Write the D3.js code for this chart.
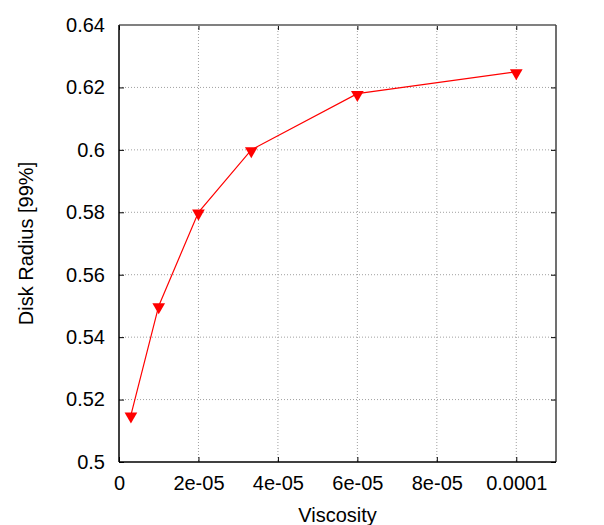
<!DOCTYPE html>
<html>
<head>
<meta charset="utf-8">
<script src="https://cdn.jsdelivr.net/npm/d3@7"></script>
<style>
body { margin: 0; background: #fff; }
text { font-family: "Liberation Sans", Arial, sans-serif; }
</style>
</head>
<body>
<script>
var viscosity = [3e-6, 1e-5, 2e-5, 3.33e-5, 6e-5, 1e-4];
var radius = [0.515, 0.55, 0.58, 0.6, 0.618, 0.625];
var xTicks = [0, 2e-5, 4e-5, 6e-5, 8e-5, 1e-4];
var xTickLabels = ['0', '2e-05', '4e-05', '6e-05', '8e-05', '0.0001'];
var yTicks = [0.5, 0.52, 0.54, 0.56, 0.58, 0.6, 0.62, 0.64];
var yTickLabels = ['0.5', '0.52', '0.54', '0.56', '0.58', '0.6', '0.62', '0.64'];

var _width = 604, _height = 525;
var _left = 119, _right = 556, _top = 25, _bottom = 462;

var svg = d3.select('body').append('svg')
    .attr('width', _width).attr('height', _height);

var x = d3.scaleLinear().domain([0, 1.1e-4]).range([_left, _right]);
var y = d3.scaleLinear().domain([0.5, 0.64]).range([_bottom, _top]);

// grid
svg.append('g').selectAll('line').data(xTicks.slice(1)).enter().append('line')
    .attr('x1', function(d){ return x(d); }).attr('x2', function(d){ return x(d); })
    .attr('y1', _top).attr('y2', _bottom)
    .attr('stroke', '#a0a0a0').attr('stroke-width', 1).attr('stroke-dasharray', '1,2');
svg.append('g').selectAll('line').data(yTicks.slice(1, -1)).enter().append('line')
    .attr('x1', _left).attr('x2', _right)
    .attr('y1', function(d){ return y(d); }).attr('y2', function(d){ return y(d); })
    .attr('stroke', '#a0a0a0').attr('stroke-width', 1).attr('stroke-dasharray', '1,2');

// axes with inward ticks on both sides
var xAxis = d3.axisBottom(x).tickValues(xTicks).tickSize(-5).tickPadding(14)
    .tickFormat(function(d, i){ return xTickLabels[i]; });
var xAxisTop = d3.axisTop(x).tickValues(xTicks).tickSize(-5).tickFormat('');
var yAxis = d3.axisLeft(y).tickValues(yTicks).tickSize(-5).tickPadding(14)
    .tickFormat(function(d, i){ return yTickLabels[i]; });
var yAxisRight = d3.axisRight(y).tickValues(yTicks).tickSize(-5).tickFormat('');

function styleAxis(g){
    g.select('.domain').remove();
    g.selectAll('.tick line').attr('stroke', '#000');
    g.selectAll('.tick text').attr('fill', '#000').style('font-size', '20px')
        .style('font-family', '"Liberation Sans", Arial, sans-serif');
}

svg.append('g').attr('transform', 'translate(0,' + _bottom + ')').call(xAxis).call(styleAxis);
svg.append('g').attr('transform', 'translate(0,' + _top + ')').call(xAxisTop).call(styleAxis);
svg.append('g').attr('transform', 'translate(' + _left + ',0)').call(yAxis).call(styleAxis);
svg.append('g').attr('transform', 'translate(' + _right + ',0)').call(yAxisRight).call(styleAxis);

// border
svg.append('line').attr('x1', _left).attr('x2', _right).attr('y1', _top).attr('y2', _top)
    .attr('stroke', '#808080').attr('stroke-width', 2);
svg.append('line').attr('x1', _right).attr('x2', _right).attr('y1', _top).attr('y2', _bottom)
    .attr('stroke', '#404040').attr('stroke-width', 1.5);
svg.append('line').attr('x1', _left).attr('x2', _left).attr('y1', _top).attr('y2', _bottom)
    .attr('stroke', '#000').attr('stroke-width', 1.5);
svg.append('line').attr('x1', _left).attr('x2', _right).attr('y1', _bottom).attr('y2', _bottom)
    .attr('stroke', '#000').attr('stroke-width', 1.5);

// series
var pts = viscosity.map(function(v, i){ return [v, radius[i]]; });
svg.append('path').datum(pts)
    .attr('d', d3.line().x(function(d){ return x(d[0]); }).y(function(d){ return y(d[1]); }))
    .attr('fill', 'none').attr('stroke', '#ff0000').attr('stroke-width', 1.2);

var tri = d3.symbol().type(d3.symbolTriangle).size(70);
svg.append('g').selectAll('path').data(pts).enter().append('path')
    .attr('d', tri)
    .attr('transform', function(d){ return 'translate(' + x(d[0]) + ',' + (y(d[1]) + 1) + ') rotate(180)'; })
    .attr('fill', '#ff0000');

// labels
svg.append('text').attr('x', (_left + _right) / 2).attr('y', 522)
    .attr('text-anchor', 'middle').style('font-size', '20px').text('Viscosity');
svg.append('text').attr('transform', 'translate(33,' + ((_top + _bottom) / 2) + ') rotate(-90)')
    .attr('text-anchor', 'middle').style('font-size', '20px').text('Disk Radius [99%]');
</script>
</body>
</html>
